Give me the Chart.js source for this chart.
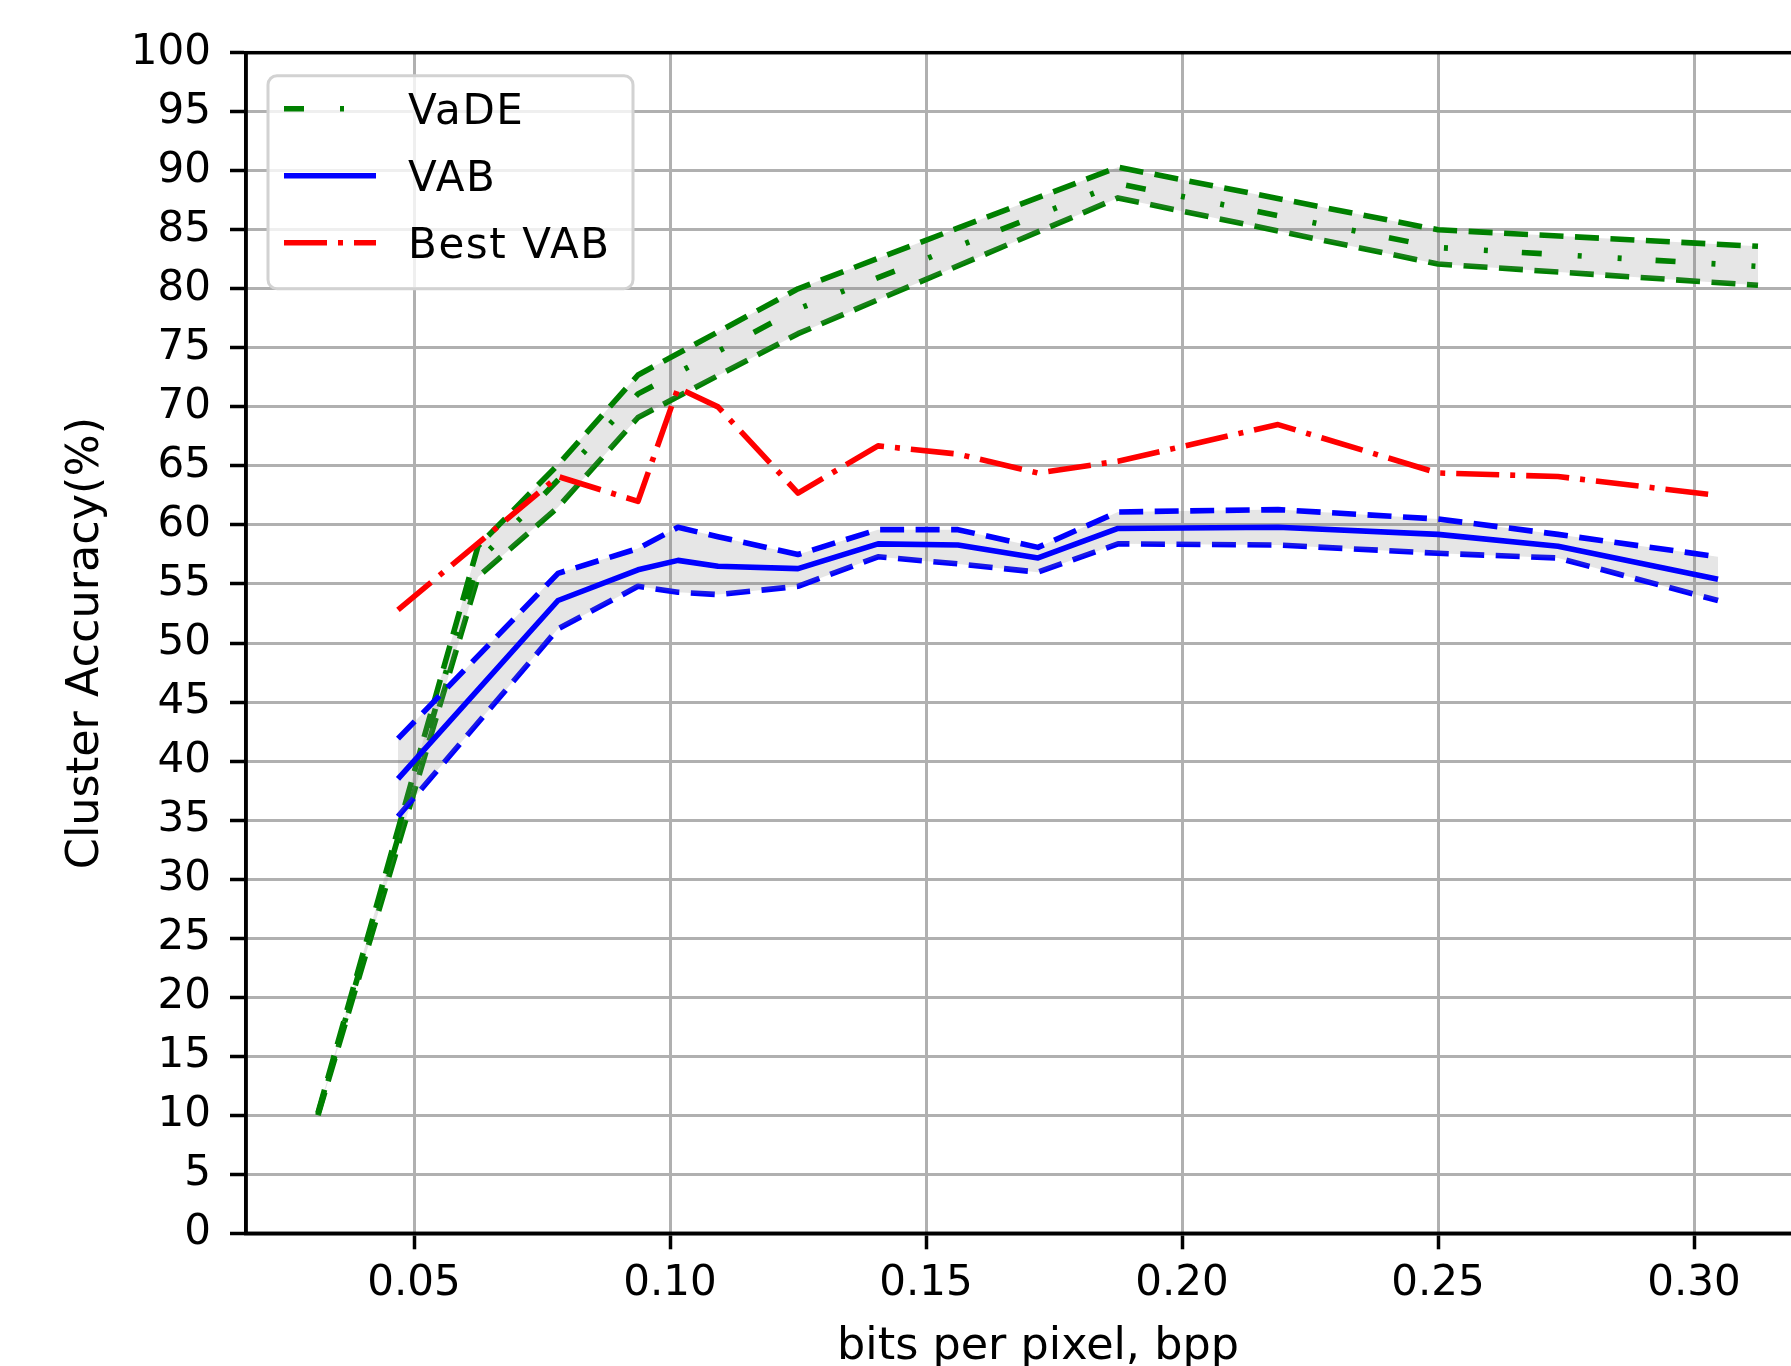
<!DOCTYPE html>
<html>
<head>
<meta charset="utf-8">
<title>Cluster accuracy vs bpp</title>
<script src="https://cdn.jsdelivr.net/npm/chart.js@4.4.1/dist/chart.umd.min.js"></script>
<style>
    html, body { margin: 0; padding: 0; background: #fff; overflow: hidden; width: 1791px; height: 1366px; }
    #wrap { position: absolute; left: 0; top: 0; width: 1900px; height: 1400px; }
</style>
</head>
<body>
<div id="wrap"><canvas id="chart" width="1900" height="1400"></canvas></div>
<script>
// VaDE : moyenne et bornes (bande grise)
var vadeBpp   = [0.03125, 0.0625, 0.078125, 0.09375, 0.125, 0.1875, 0.25, 0.3125];
var vadeUpper = [10.2, 58.2, 65.1, 72.7, 80.0, 90.3, 85.0, 83.6];
var vadeMean  = [10.1, 56.9, 63.8, 71.1, 78.3, 88.9, 83.5, 81.9];
var vadeLower = [10.0, 55.6, 61.5, 69.1, 76.2, 87.7, 82.1, 80.3];

// VAB : moyenne, bornes, et meilleur run
var vabBpp   = [0.046875, 0.078125, 0.09375, 0.1015625, 0.109375, 0.125, 0.140625, 0.15625,
                0.171875, 0.1875, 0.21875, 0.25, 0.2734375, 0.3046875];
var vabUpper = [41.9, 55.9, 58.0, 59.8, 59.0, 57.5, 59.6, 59.6, 58.1, 61.1, 61.3, 60.5, 59.2, 57.3];
var vabMean  = [38.5, 53.6, 56.2, 57.0, 56.5, 56.3, 58.4, 58.3, 57.2, 59.7, 59.8, 59.2, 58.2, 55.4];
var vabLower = [35.3, 51.2, 54.8, 54.3, 54.1, 54.8, 57.3, 56.7, 56.0, 58.4, 58.3, 57.6, 57.2, 53.6];
var bestVab  = [52.8, 64.1, 62.0, 71.6, 70.0, 62.7, 66.7, 66.0, 64.4, 65.4, 68.5, 64.4, 64.1, 62.5];

var seriesNames = ['VaDE', 'VAB', 'Best VAB'];
var xTicks = [0.05, 0.10, 0.15, 0.20, 0.25, 0.30];
var yTicks = [0, 5, 10, 15, 20, 25, 30, 35, 40, 45, 50, 55, 60, 65, 70, 75, 80, 85, 90, 95, 100];
var xTitle = 'bits per pixel, bpp';
var yTitle = 'Cluster Accuracy(%)';

var FAMILY = '"DejaVu Sans", sans-serif';
var FONT = { family: FAMILY, size: 42 };
var TITLE_FONT = { family: FAMILY, size: 44.5 };
var BAND = 'rgba(128,128,128,0.2)';
var DASHED = [24, 11.5];
var LW = 5.6;

function pts(xs, ys) {
    return xs.map(function (x, i) { return { x: x, y: ys[i] }; });
}

function serie(label, xs, ys, color, dash, fill) {
    return {
        label: label,
        data: pts(xs, ys),
        borderColor: color,
        borderWidth: LW,
        borderDash: dash,
        backgroundColor: BAND,
        fill: fill === undefined ? false : fill,
        pointRadius: 0,
        tension: 0
    };
}

// ordre : l'index 0 est dessiné en dernier (au-dessus)
var datasets = [
    serie('Best VAB', vabBpp, bestVab, '#ff0000', [43, 11, 5, 11]),
    serie('VAB', vabBpp, vabMean, '#0000ff', []),
    serie('VAB upper', vabBpp, vabUpper, '#0000ff', DASHED, 3),
    serie('VAB lower', vabBpp, vabLower, '#0000ff', DASHED),
    serie('VaDE', vadeBpp, vadeMean, '#008000', [20, 36, 4, 36, 4, 34]),
    serie('VaDE upper', vadeBpp, vadeUpper, '#008000', DASHED, 6),
    serie('VaDE lower', vadeBpp, vadeLower, '#008000', DASHED)
];

// cadre complet (spines matplotlib)
var frame = {
    id: 'frame',
    afterDatasetsDraw: function (chart) {
        var a = chart.chartArea, ctx = chart.ctx;
        ctx.save();
        ctx.strokeStyle = '#000';
        ctx.lineWidth = 3.5;
        ctx.strokeRect(a.left, a.top, a.right - a.left, a.bottom - a.top);
        ctx.restore();
    }
};

// légende dans la zone de tracé, en haut à gauche
var legendBox = {
    id: 'legendBox',
    afterDraw: function (chart) {
        var a = chart.chartArea, ctx = chart.ctx;
        var x0 = a.left + 22, y0 = a.top + 23;
        ctx.save();
        ctx.beginPath();
        ctx.roundRect(x0, y0, 365, 213, 9);
        ctx.fillStyle = 'rgba(255,255,255,0.8)';
        ctx.fill();
        ctx.lineWidth = 3;
        ctx.strokeStyle = '#d2d2d2';
        ctx.stroke();
        seriesNames.forEach(function (name, i) {
            var ds = chart.data.datasets.filter(function (d) { return d.label === name; })[0];
            var y = y0 + 33 + i * 67;
            ctx.beginPath();
            ctx.setLineDash(ds.borderDash || []);
            ctx.lineWidth = ds.borderWidth;
            ctx.strokeStyle = ds.borderColor;
            ctx.lineCap = 'butt';
            ctx.moveTo(x0 + 16, y);
            ctx.lineTo(x0 + 108, y);
            ctx.stroke();
            ctx.setLineDash([]);
            ctx.fillStyle = '#000';
            ctx.font = FONT.size + 'px ' + FONT.family;
            ctx.letterSpacing = '1.6px';
            ctx.textBaseline = 'middle';
            ctx.fillText(name, x0 + 140, y + 4.5);
            ctx.letterSpacing = '0px';
        });
        ctx.restore();
    }
};

new Chart(document.getElementById('chart'), {
    type: 'line',
    data: { datasets: datasets },
    options: {
        responsive: false,
        animation: false,
        devicePixelRatio: 1,
        layout: { padding: { left: 0, top: 52.7, right: 70, bottom: 0 } },
        plugins: {
            legend: { display: false },
            tooltip: { enabled: false }
        },
        elements: {
            line: { borderCapStyle: 'butt', borderJoinStyle: 'round' }
        },
        scales: {
            x: {
                type: 'linear',
                min: 0.0171875,
                max: 0.3265625,
                afterFit: function (s) { s.height = 166.7; },
                afterBuildTicks: function (s) {
                    s.ticks = xTicks.map(function (v) { return { value: v }; });
                },
                ticks: {
                    font: FONT, color: '#000', padding: 10, maxRotation: 0, autoSkip: false,
                    callback: function (v) { return Number(v).toFixed(2); }
                },
                grid: { color: '#b0b0b0', lineWidth: 3, tickColor: '#000', tickWidth: 3.5, tickLength: 16 },
                border: { color: '#000', width: 3.5 },
                title: { display: true, text: xTitle, font: TITLE_FONT, color: '#000', padding: { top: 0, bottom: 26 } }
            },
            y: {
                min: 0,
                max: 100,
                afterFit: function (s) { s.width = 246; },
                afterBuildTicks: function (s) {
                    s.ticks = yTicks.map(function (v) { return { value: v }; });
                },
                ticks: { font: FONT, color: '#000', padding: 19, autoSkip: false },
                grid: { color: '#b0b0b0', lineWidth: 3, tickColor: '#000', tickWidth: 3.5, tickLength: 16 },
                border: { color: '#000', width: 3.5 },
                title: { display: true, text: yTitle, font: TITLE_FONT, color: '#000', padding: { top: 59.5, bottom: 0 } }
            }
        }
    },
    plugins: [frame, legendBox]
});
</script>
</body>
</html>
